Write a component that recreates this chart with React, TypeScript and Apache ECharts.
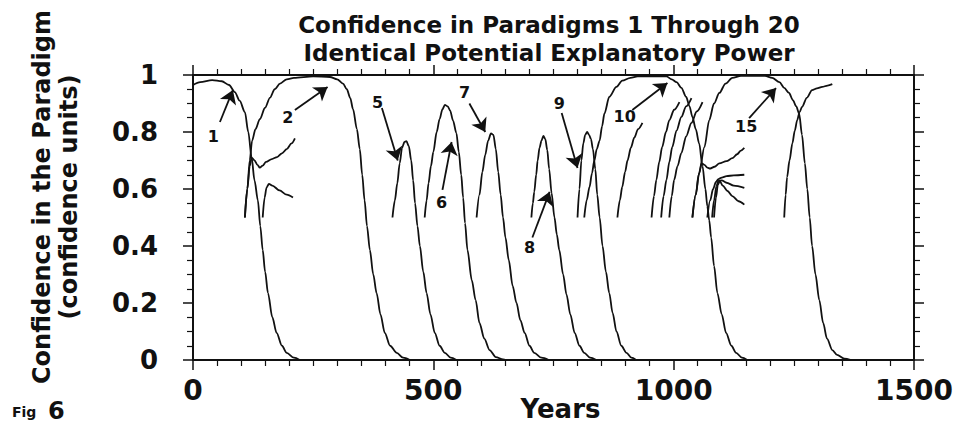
import React, { useEffect, useRef } from "react";
import * as echarts from "echarts";

// ---- Data (years, confidence) ----
const p1 = [[0,0.965],[15,0.975],[40,0.982],[60,0.978],[75,0.965],[87,0.94],[97,0.91],[108,0.87],[115,0.8],[122,0.71],[128,0.63],[135,0.56],[140,0.47],[145,0.386],[150,0.31],[156,0.235],[165,0.15],[174,0.095],[185,0.05],[195,0.025],[210,0.008],[222,0]];
const p2 = [[108,0.5],[113,0.6],[118,0.7],[123,0.77],[130,0.81],[139,0.845],[150,0.885],[160,0.92],[170,0.95],[181,0.97],[195,0.985],[210,0.99],[250,0.995],[285,0.993],[300,0.985],[312,0.97],[320,0.95],[327,0.92],[333,0.88],[341,0.81],[347,0.74],[352,0.65],[357,0.56],[362,0.47],[368,0.386],[375,0.3],[382,0.235],[390,0.16],[399,0.095],[410,0.05],[424,0.025],[437,0.008],[451,0]];
const p3 = [[108,0.5],[113,0.6],[118,0.68],[122,0.71],[128,0.7],[134,0.685],[139,0.675],[145,0.682],[152,0.695],[164,0.705],[175,0.712],[185,0.725],[195,0.74],[205,0.76],[212,0.778]];
const p4 = [[145,0.5],[149,0.57],[153,0.605],[158,0.618],[165,0.612],[180,0.595],[195,0.58],[208,0.57]];
const p5 = [[415,0.5],[420,0.56],[425,0.62],[430,0.69],[435,0.745],[440,0.765],[444,0.768],[449,0.75],[454,0.7],[458,0.63],[462,0.55],[467,0.47],[472,0.4],[479,0.31],[486,0.235],[494,0.16],[503,0.095],[513,0.05],[524,0.025],[536,0.008],[548,0]];
const p6 = [[482,0.5],[486,0.56],[490,0.62],[495,0.68],[500,0.73],[507,0.8],[513,0.845],[519,0.88],[524,0.895],[530,0.89],[535,0.875],[541,0.84],[548,0.796],[553,0.73],[558,0.65],[562,0.57],[566,0.48],[571,0.386],[580,0.28],[588,0.21],[596,0.13],[606,0.075],[617,0.035],[630,0.01],[645,0.002],[652,0]];
const p7 = [[590,0.5],[596,0.58],[602,0.66],[608,0.72],[614,0.77],[620,0.795],[625,0.79],[630,0.74],[635,0.66],[640,0.58],[645,0.5],[650,0.43],[657,0.35],[665,0.26],[673,0.2],[681,0.14],[690,0.095],[700,0.05],[710,0.025],[725,0.008],[740,0]];
const p8 = [[704,0.5],[707,0.55],[710,0.59],[714,0.65],[717,0.7],[721,0.745],[725,0.77],[729,0.786],[733,0.775],[737,0.737],[741,0.67],[746,0.586],[752,0.5],[757,0.44],[762,0.386],[770,0.3],[777,0.23],[785,0.16],[794,0.095],[804,0.05],[814,0.025],[826,0.008],[839,0]];
const p9 = [[800,0.5],[804,0.6],[808,0.7],[812,0.76],[816,0.79],[820,0.8],[824,0.79],[828,0.775],[832,0.74],[837,0.67],[841,0.58],[846,0.5],[852,0.4],[859,0.31],[866,0.235],[873,0.165],[881,0.1],[891,0.05],[902,0.025],[912,0.008],[922,0]];
const p10 = [[814,0.5],[819,0.56],[825,0.607],[830,0.655],[835,0.7],[840,0.74],[846,0.77],[851,0.82],[856,0.865],[866,0.923],[881,0.958],[893,0.98],[910,0.99],[925,0.995],[985,0.995],[996,0.985],[1006,0.975],[1016,0.955],[1026,0.923],[1033,0.89],[1039,0.853],[1046,0.81],[1053,0.76],[1060,0.68],[1066,0.6],[1070,0.54],[1074,0.49],[1078,0.43],[1084,0.33],[1091,0.235],[1100,0.16],[1109,0.095],[1120,0.05],[1130,0.025],[1142,0.008],[1153,0]];
const p11 = [[883,0.5],[888,0.56],[893,0.607],[899,0.66],[904,0.7],[911,0.745],[918,0.78],[926,0.81],[935,0.832]];
const p12 = [[954,0.5],[959,0.575],[964,0.632],[970,0.695],[976,0.747],[984,0.8],[991,0.842],[1001,0.878],[1012,0.905]];
const p13 = [[974,0.5],[979,0.575],[985,0.632],[991,0.695],[997,0.747],[1006,0.805],[1016,0.853],[1026,0.89],[1037,0.919]];
const p14 = [[991,0.5],[996,0.575],[1001,0.632],[1008,0.68],[1016,0.726],[1026,0.785],[1037,0.832],[1048,0.872],[1060,0.905]];
const p15 = [[1039,0.5],[1046,0.58],[1053,0.656],[1064,0.747],[1074,0.842],[1084,0.9],[1095,0.937],[1108,0.97],[1122,0.99],[1140,0.997],[1190,0.997],[1205,0.99],[1220,0.975],[1230,0.955],[1240,0.937],[1248,0.912],[1255,0.89],[1261,0.865],[1267,0.79],[1273,0.69],[1278,0.6],[1283,0.5],[1288,0.4],[1295,0.3],[1303,0.21],[1311,0.13],[1319,0.075],[1330,0.035],[1340,0.018],[1355,0.005],[1369,0]];
const p16 = [[1039,0.5],[1046,0.58],[1052,0.65],[1058,0.69],[1064,0.685],[1070,0.675],[1076,0.672],[1085,0.678],[1095,0.69],[1110,0.698],[1122,0.708],[1132,0.722],[1140,0.735],[1147,0.744]];
const p17 = [[1070,0.5],[1076,0.56],[1082,0.6],[1088,0.625],[1093,0.635],[1100,0.64],[1110,0.645],[1125,0.648],[1147,0.65]];
const p18 = [[1080,0.5],[1084,0.56],[1089,0.61],[1093,0.628],[1100,0.63],[1110,0.622],[1125,0.612],[1147,0.604]];
const p19 = [[1084,0.5],[1088,0.57],[1092,0.615],[1096,0.628],[1102,0.612],[1112,0.593],[1122,0.575],[1135,0.557],[1147,0.545]];
const p20 = [[1230,0.5],[1233,0.58],[1236,0.642],[1241,0.7],[1247,0.76],[1252,0.805],[1257,0.842],[1262,0.87],[1267,0.888],[1277,0.92],[1288,0.947],[1298,0.953],[1309,0.958],[1320,0.963],[1330,0.968]];

const paradigms = [p1,p2,p3,p4,p5,p6,p7,p8,p9,p10,p11,p12,p13,p14,p15,p16,p17,p18,p19,p20];

// Annotation arrows (tail -> head) and their numbers, in data units
const arrowTails = [[56,0.835],[212,0.877],[393,0.884],[519,0.597],[575,0.9],[706,0.43],[767,0.867],[914,0.877],[1157,0.849]];
const arrowHeads = [[83,0.947],[280,0.958],[426,0.7],[538,0.765],[608,0.8],[742,0.59],[800,0.674],[987,0.972],[1213,0.954]];
const noteLabels = ["1","2","5","6","7","8","9","10","15"];
const notePositions = [[42,0.785],[197,0.85],[384,0.905],[517,0.551],[565,0.937],[700,0.396],[762,0.9],[898,0.853],[1151,0.818]];

const xTicks = [0, 500, 1000, 1500];
const yTicks = [0, 0.2, 0.4, 0.6, 0.8, 1];

const INK = "#111111";
const FONT = '"DejaVu Sans", sans-serif';

export default function App() {
  const ref = useRef<HTMLDivElement>(null);
  useEffect(() => {
    if (!ref.current) return;
    const chart = echarts.init(ref.current, undefined, { renderer: "svg" });

    const tickCommon = {
      axisLine: { show: true, onZero: false, lineStyle: { color: INK, width: 2 } },
      axisTick: { show: true, inside: false, length: 10, lineStyle: { color: INK, width: 1.5 } },
      splitLine: { show: false },
      minorSplitLine: { show: false },
    };

    const xBase = {
      type: "value",
      min: xTicks[0],
      max: xTicks[xTicks.length - 1],
      interval: xTicks[1] - xTicks[0],
      minorTick: { show: true, splitNumber: 10, length: 6, lineStyle: { color: INK, width: 1.2 } },
      ...tickCommon,
    };
    const yBase = {
      type: "value",
      min: yTicks[0],
      max: yTicks[yTicks.length - 1],
      interval: yTicks[1] - yTicks[0],
      minorTick: { show: true, splitNumber: 4, length: 6, lineStyle: { color: INK, width: 1.2 } },
      ...tickCommon,
    };

    const lineSeries = paradigms.map((d, i) => ({
      type: "line",
      name: `Paradigm ${i + 1}`,
      data: d,
      showSymbol: false,
      smooth: 0.3,
      smoothMonotone: "x",
      silent: true,
      lineStyle: { color: INK, width: 1.8 },
      z: 2,
    }));

    const option = {
      animation: false,
      backgroundColor: "#ffffff",
      title: {
        text: "Confidence in Paradigms 1 Through 20\nIdentical Potential Explanatory Power",
        left: 544,
        top: 6,
        textAlign: "center",
        textStyle: { fontFamily: FONT, fontSize: 23, fontWeight: "bold", color: INK, lineHeight: 28 },
      },
      grid: { left: 193, right: 46, top: 75, bottom: 64, containLabel: false, outerBoundsMode: "none" },
      xAxis: [
        {
          ...xBase,
          position: "bottom",
          name: "Years",
          nameLocation: "middle",
          nameGap: 36,
          nameMoveOverlap: false,
          nameTextStyle: { fontFamily: FONT, fontSize: 26, fontWeight: "bold", color: INK, padding: [0, 0, 0, 14] },
          axisLabel: {
            show: true,
            margin: 16,
            fontFamily: FONT,
            fontSize: 28,
            fontWeight: "bold",
            color: INK,
            formatter: (v: number) => String(v),
          },
        },
        { ...xBase, position: "top", axisLabel: { show: false } },
      ],
      yAxis: [
        {
          ...yBase,
          position: "left",
          axisLabel: {
            show: true,
            margin: 35,
            fontFamily: FONT,
            fontSize: 26,
            fontWeight: "bold",
            color: INK,
            formatter: (v: number) => (v === 0 ? "0" : v === 1 ? "1" : v.toFixed(1)),
          },
        },
        { ...yBase, position: "right", axisLabel: { show: false } },
      ],
      graphic: [
        {
          type: "text",
          x: 55,
          y: 197,
          rotation: Math.PI / 2,
          style: {
            text: "Confidence in the Paradigm\n(confidence units)",
            fontFamily: FONT,
            fontSize: 24,
            fontWeight: "bold",
            lineHeight: 27,
            fill: INK,
            align: "center",
            verticalAlign: "middle",
            textAlign: "center",
            textVerticalAlign: "middle",
          },
        },
        {
          type: "text",
          x: 12,
          y: 412,
          style: { text: "Fig", fontFamily: FONT, fontSize: 14, fontWeight: "bold", fill: INK, align: "left", verticalAlign: "middle", textAlign: "left", textVerticalAlign: "middle" },
        },
        {
          type: "text",
          x: 48,
          y: 411,
          style: { text: "6", fontFamily: FONT, fontSize: 24, fontWeight: "bold", fill: INK, align: "left", verticalAlign: "middle", textAlign: "left", textVerticalAlign: "middle" },
        },
      ],
      series: [
        ...lineSeries,
        {
          type: "lines",
          coordinateSystem: "cartesian2d",
          silent: true,
          symbol: ["none", "arrow"],
          symbolSize: 13,
          lineStyle: { color: INK, width: 1.8, opacity: 1 },
          data: arrowTails.map((t, i) => ({ coords: [t, arrowHeads[i]] })),
          z: 3,
        },
        {
          type: "scatter",
          silent: true,
          symbolSize: 0,
          data: notePositions.map((p, i) => ({ value: p, name: noteLabels[i] })),
          itemStyle: { opacity: 1 },
          label: {
            show: true,
            position: "inside",
            formatter: "{b}",
            fontFamily: FONT,
            fontSize: 16,
            fontWeight: "bold",
            color: INK,
          },
          z: 4,
        },
      ],
    };

    chart.setOption(option as any);
    return () => chart.dispose();
  }, []);

  return (
    <div
      ref={ref}
      style={{ position: "fixed", left: 0, top: 0, width: 960, height: 424, background: "#fff" }}
    />
  );
}
